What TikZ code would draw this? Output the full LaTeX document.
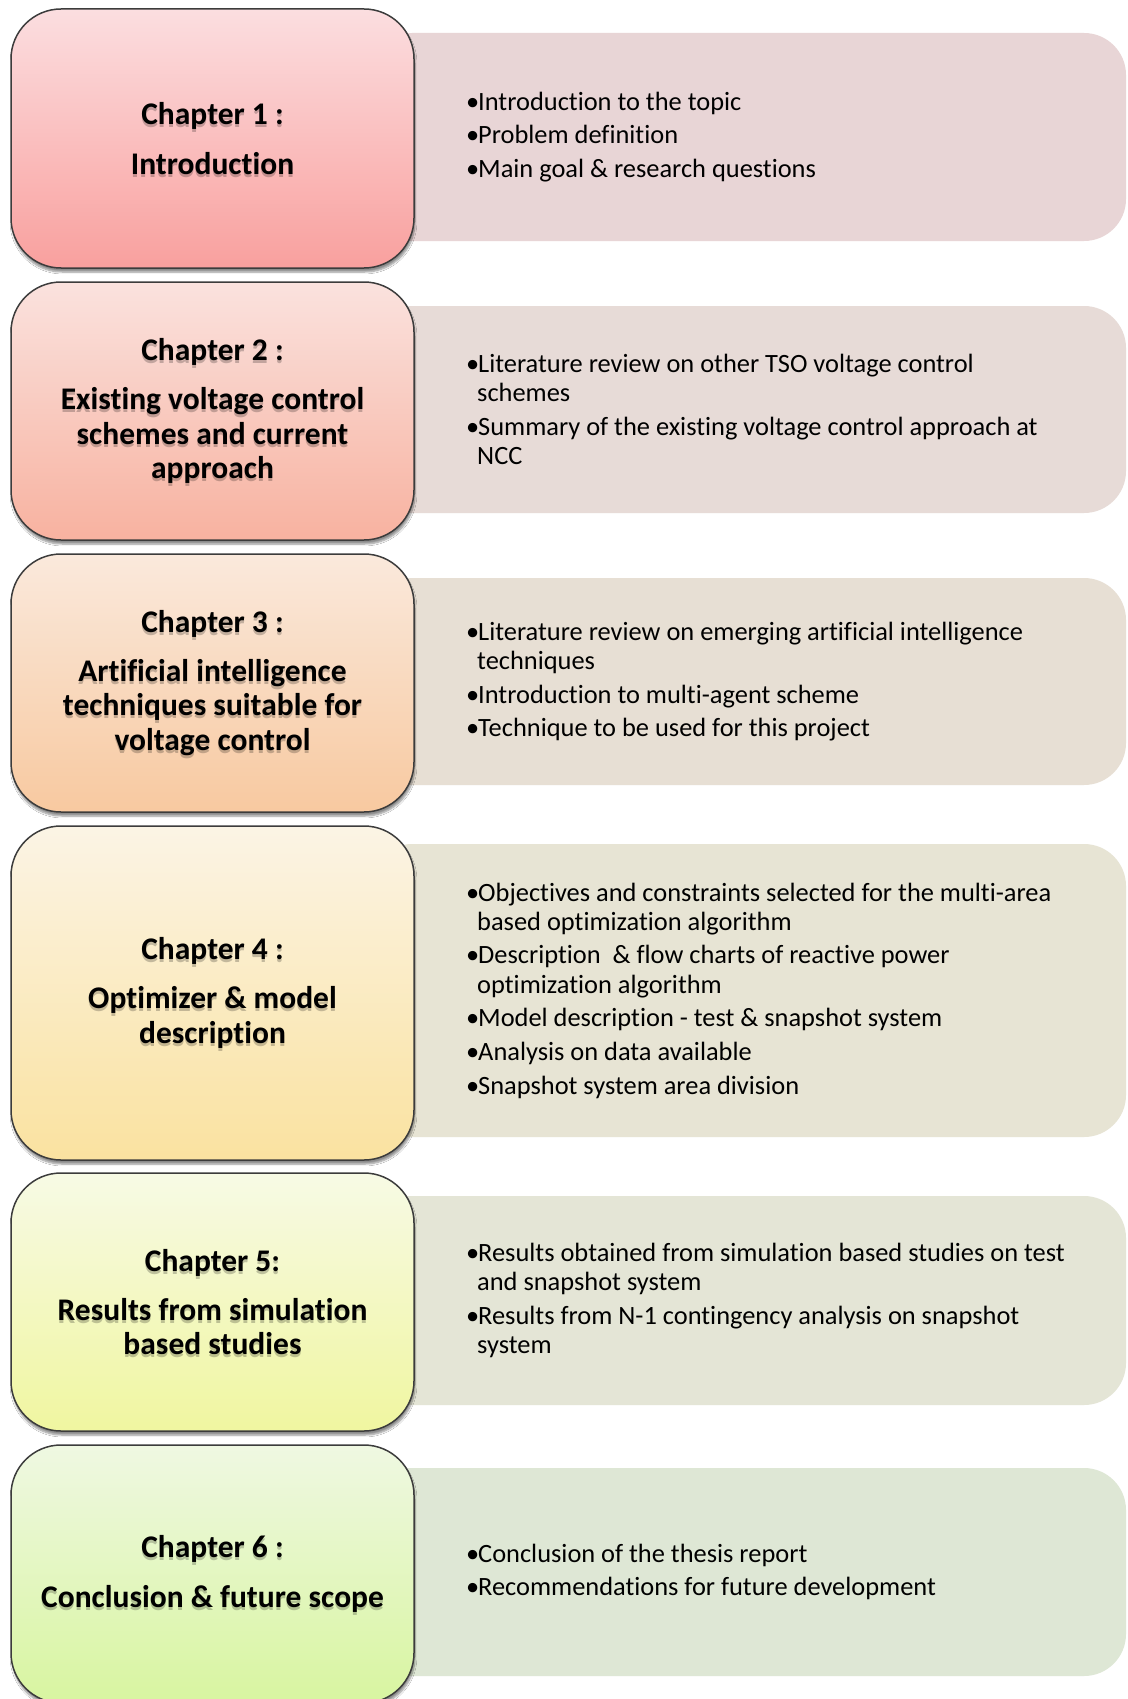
\documentclass[tikz,border=0pt]{standalone}
\usepackage{fontspec}
\setmainfont{Carlito}[Ligatures=NoCommon]
\usetikzlibrary{shadows.blur}

% chapter box gradients (top / bottom)
\definecolor{cAtop}{RGB}{251,222,224}
\definecolor{cAbot}{RGB}{249,160,158}
\definecolor{cBtop}{RGB}{250,226,222}
\definecolor{cBbot}{RGB}{248,178,160}
\definecolor{cCtop}{RGB}{250,233,220}
\definecolor{cCbot}{RGB}{248,201,160}
\definecolor{cDtop}{RGB}{251,244,229}
\definecolor{cDbot}{RGB}{250,226,160}
\definecolor{cEtop}{RGB}{247,250,229}
\definecolor{cEbot}{RGB}{240,246,160}
\definecolor{cFtop}{RGB}{239,248,226}
\definecolor{cFbot}{RGB}{216,245,160}
% description panels
\definecolor{pA}{RGB}{232,213,214}
\definecolor{pB}{RGB}{231,219,215}
\definecolor{pC}{RGB}{231,223,212}
\definecolor{pD}{RGB}{231,228,212}
\definecolor{pE}{RGB}{228,229,214}
\definecolor{pF}{RGB}{222,231,213}
\definecolor{boxline}{RGB}{60,60,60}

\newcommand{\bul}{\makebox[12pt][l]{•}}
\newcommand{\cont}{\hspace*{11pt}}

\tikzset{
  chapbox/.style={rounded corners=50pt, draw=boxline, line width=1.5pt,
    minimum width=403pt, inner sep=0pt,
    blur shadow={shadow xshift=1pt, shadow yshift=-4pt,
                 shadow blur steps=6, shadow opacity=45}},
  chaptitle/.style={align=center, inner sep=0pt,
    font=\bfseries\fontsize{31.5}{34.7}\selectfont},
  titleglow/.style={chaptitle, text=black, opacity=0.22, yshift=-3pt},
  panel/.style={rounded corners=42pt, minimum width=756pt, inner sep=0pt},
  ptext/.style={anchor=west, align=left, inner sep=0pt,
    font=\fontsize{26.4}{29.3}\selectfont},
}

\begin{document}
\begin{tikzpicture}[x=1pt,y=-1pt]
\useasboundingbox[fill=white] (0,0) rectangle (1127,1699);

% description panels (left ends hide behind the chapter boxes)
\node[panel, fill=pA, minimum height=208pt] (p1) at (748,137) {};
\node[panel, fill=pB, minimum height=207pt] (p2) at (748,409.5) {};
\node[panel, fill=pC, minimum height=207pt] (p3) at (748,681.5) {};
\node[panel, fill=pD, minimum height=293pt] (p4) at (748,990.5) {};
\node[panel, fill=pE, minimum height=209pt] (p5) at (748,1300.5) {};
\node[panel, fill=pF, minimum height=208pt] (p6) at (748,1572) {};

% chapter boxes
\node[chapbox, top color=cAtop, bottom color=cAbot, minimum height=259pt] (c1) at (212.5,138.5) {};
\node[chapbox, top color=cBtop, bottom color=cBbot, minimum height=258pt] (c2) at (212.5,411) {};
\node[chapbox, top color=cCtop, bottom color=cCbot, minimum height=258pt] (c3) at (212.5,683) {};
\node[chapbox, top color=cDtop, bottom color=cDbot, minimum height=334pt] (c4) at (212.5,993) {};
\node[chapbox, top color=cEtop, bottom color=cEbot, minimum height=258pt] (c5) at (212.5,1302) {};
\node[chapbox, top color=cFtop, bottom color=cFbot, minimum height=258pt] (c6) at (212.5,1574) {};

% chapter titles, each over a soft offset copy
\def\tA{Chapter 1 :\\[14.5pt] Introduction}
\def\tB{Chapter 2 :\\[14.5pt] Existing voltage control\\ schemes and current\\ approach}
\def\tC{Chapter 3 :\\[14.5pt] Artificial intelligence\\ techniques suitable for\\ voltage control}
\def\tD{Chapter 4 :\\[14.5pt] Optimizer \& model\\ description}
\def\tE{Chapter 5:\\[14.5pt] Results from simulation\\ based studies}
\def\tF{Chapter 6 :\\[14.5pt] Conclusion \& future scope}
\node[titleglow] (g1) at (c1) {\tA};
\node[titleglow] (g2) at (c2) {\tB};
\node[titleglow] (g3) at (c3) {\tC};
\node[titleglow] (g4) at (c4) {\tD};
\node[titleglow] (g5) at (c5) {\tE};
\node[titleglow] (g6) at (c6) {\tF};
\node[chaptitle] (h1) at (c1) {\tA};
\node[chaptitle] (h2) at (c2) {\tB};
\node[chaptitle] (h3) at (c3) {\tC};
\node[chaptitle] (h4) at (c4) {\tD};
\node[chaptitle] (h5) at (c5) {\tE};
\node[chaptitle] (h6) at (c6) {\tF};

% panel contents
\node[ptext] (t1) at (466,137) {%
  \bul Introduction to the topic\\[4.3pt]
  \bul Problem definition\\[4.3pt]
  \bul Main goal \& research questions};
\node[ptext] (t2) at (466,409.5) {%
  \bul Literature review on other TSO voltage control\\
  \cont schemes\\[4.3pt]
  \bul Summary of the existing voltage control approach at\\
  \cont NCC};
\node[ptext] (t3) at (466,681.5) {%
  \bul Literature review on emerging artificial intelligence\\
  \cont techniques\\[4.3pt]
  \bul Introduction to multi-agent scheme\\[4.3pt]
  \bul Technique to be used for this project};
\node[ptext] (t4) at (466,990.5) {%
  \bul Objectives and constraints selected for the multi-area\\
  \cont based optimization algorithm\\[4.3pt]
  \bul Description\ \ \& flow charts of reactive power\\
  \cont optimization algorithm\\[4.3pt]
  \bul Model description - test \& snapshot system\\[4.3pt]
  \bul Analysis on data available\\[4.3pt]
  \bul Snapshot system area division};
\node[ptext] (t5) at (466,1300.5) {%
  \bul Results obtained from simulation based studies on test\\
  \cont and snapshot system\\[4.3pt]
  \bul Results from N-1 contingency analysis on snapshot\\
  \cont system};
\node[ptext] (t6) at (466,1572) {%
  \bul Conclusion of the thesis report\\[4.3pt]
  \bul Recommendations for future development};
\end{tikzpicture}
\end{document}
